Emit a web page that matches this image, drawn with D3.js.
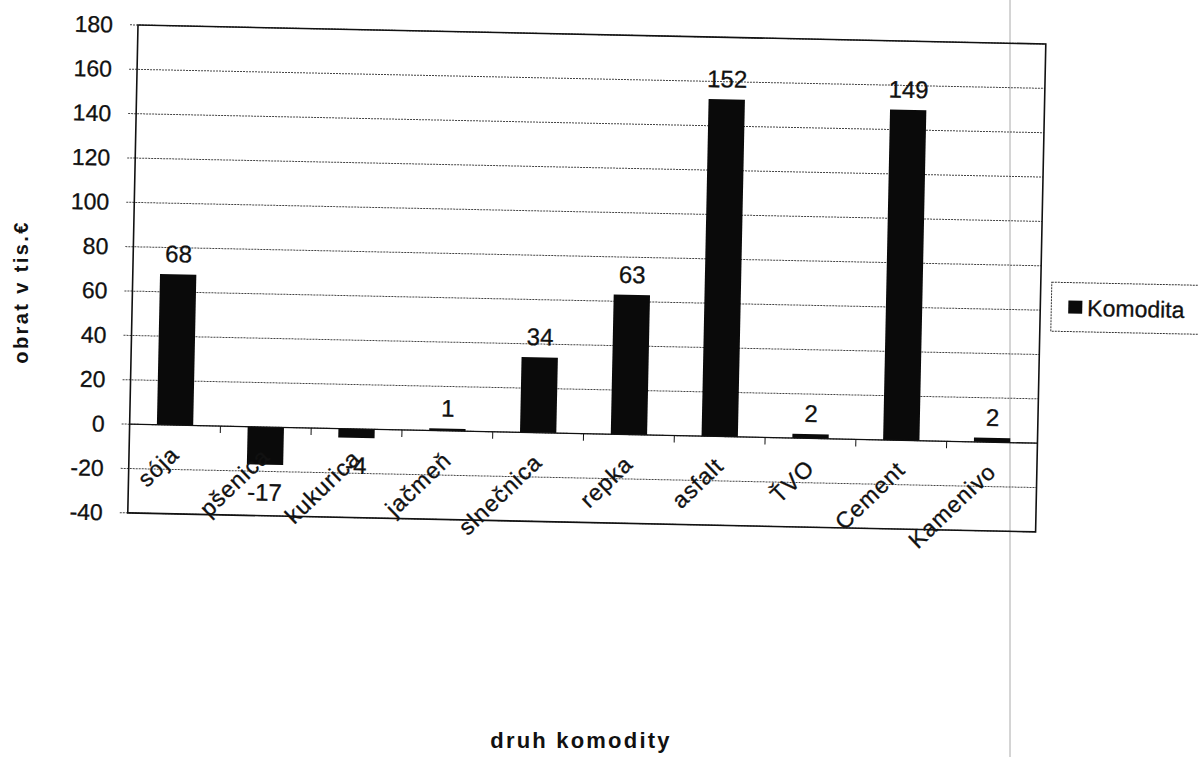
<!DOCTYPE html>
<html><head><meta charset="utf-8">
<script src="https://cdn.jsdelivr.net/npm/d3@7"></script>
<style>body{margin:0;background:#fff}svg{display:block}text{font-family:"Liberation Sans",Arial,sans-serif;fill:#111}</style>
</head><body>
<svg id="c" width="1198" height="757"></svg>
<script>
const categories = ["sója","pšenica","kukurica","jačmeň","slnečnica","repka","asfalt","ŤVO","Cement","Kamenivo"];
const values = [68,-17,-4,1,34,63,152,2,149,2];
const yTicks = [-40,-20,0,20,40,60,80,100,120,140,160,180];
const seriesName = "Komodita";
const yTitle = "obrat v tis.€";
const xTitle = "druh komodity";

const svg = d3.select("#c");
const X0 = 138, Y0 = 25, W = 908, H = 488;
const angle = 1.2;

// page edge line from scan
svg.append("line").attr("x1",1010).attr("x2",1010).attr("y1",0).attr("y2",757)
  .attr("stroke","#aaa").attr("stroke-width",1);

const g = svg.append("g").attr("transform",`rotate(${angle},${X0},${Y0})`);
const x = d3.scaleBand().domain(categories).range([X0, X0+W]).paddingInner(0.6).paddingOuter(0.3);
const xc = d3.scaleBand().domain(categories).range([X0, X0+W]);
const y = d3.scaleLinear().domain([-40,180]).range([Y0+H, Y0]);

// gridlines
g.append("g").selectAll("line").data(yTicks).join("line")
  .attr("x1",X0-8).attr("x2",X0+W).attr("y1",d=>y(d)).attr("y2",d=>y(d))
  .attr("stroke","#444").attr("stroke-width",1).attr("stroke-dasharray","2,1");

// y tick labels
g.append("g").selectAll("text").data(yTicks).join("text")
  .attr("x",X0-25).attr("y",d=>y(d)+8).attr("text-anchor","end")
  .attr("font-size",23).attr("stroke","#111").attr("stroke-width",0.3).text(d=>d);

// bars
g.append("g").selectAll("rect").data(values).join("rect")
  .attr("x",(d,i)=>x(categories[i]))
  .attr("width",x.bandwidth())
  .attr("y",d=>y(Math.max(0,d)))
  .attr("height",d=>Math.abs(y(d)-y(0)))
  .attr("fill","#0a0a0a");

// zero axis line and category ticks
g.append("line").attr("x1",X0).attr("x2",X0+W).attr("y1",y(0)).attr("y2",y(0))
  .attr("stroke","#111").attr("stroke-width",1.3);
g.append("g").selectAll("line").data(categories.slice(1)).join("line")
  .attr("x1",d=>xc(d)).attr("x2",d=>xc(d)).attr("y1",y(0)).attr("y2",y(0)+7)
  .attr("stroke","#111").attr("stroke-width",1);

// plot border
g.append("rect").attr("x",X0).attr("y",Y0).attr("width",W).attr("height",H)
  .attr("fill","none").attr("stroke","#111").attr("stroke-width",1.6);

// data labels
g.append("g").selectAll("text").data(values).join("text")
  .attr("x",(d,i)=>xc(categories[i])+xc.bandwidth()/2)
  .attr("y",d=>d>=0 ? y(d)-12 : y(d)+36)
  .attr("text-anchor","middle").attr("font-size",24)
  .attr("stroke","#111").attr("stroke-width",0.3).text(d=>d);

// category labels
g.append("g").selectAll("text").data(categories).join("text")
  .attr("transform",d=>`translate(${xc(d)+xc.bandwidth()/2+6},${y(0)+31}) rotate(-45)`)
  .attr("text-anchor","end").attr("font-size",23).attr("letter-spacing",1)
  .attr("stroke","#111").attr("stroke-width",0.3).text(d=>d);

// legend
const lg = g.append("g").attr("transform","translate(1057,263)");
lg.append("rect").attr("x",0).attr("y",0).attr("width",160).attr("height",49)
  .attr("fill","#fff").attr("stroke","#333").attr("stroke-width",1).attr("stroke-dasharray","2,1");
lg.append("rect").attr("x",17).attr("y",18).attr("width",14).attr("height",13).attr("fill","#0a0a0a");
lg.append("text").attr("x",36).attr("y",33).attr("font-size",23)
  .attr("stroke","#111").attr("stroke-width",0.3).text(seriesName);

// axis titles
svg.append("text").attr("transform","translate(28,292) rotate(-90)")
  .attr("text-anchor","middle").attr("font-size",20).attr("font-weight","bold")
  .attr("letter-spacing",2.4).text(yTitle);
svg.append("text").attr("x",581).attr("y",748)
  .attr("text-anchor","middle").attr("font-size",22).attr("font-weight","bold")
  .attr("letter-spacing",2.2).text(xTitle);
</script>
</body></html>
